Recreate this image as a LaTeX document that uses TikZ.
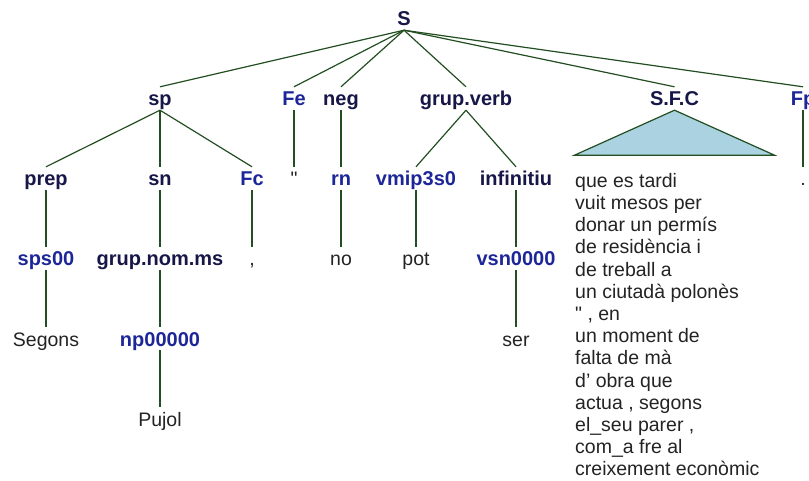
\documentclass[tikz,border=0pt]{standalone}
\usepackage{fontspec}
\setmainfont{Liberation Sans}[Ligatures=TeXOff]
\usepackage{tikz}

\definecolor{catnavy}{RGB}{22,22,72}
\definecolor{tagblue}{RGB}{28,38,152}
\definecolor{branchgreen}{RGB}{34,78,34}
\definecolor{wordgray}{RGB}{35,35,35}
\definecolor{roofblue}{RGB}{170,210,224}

\begin{document}
\begin{tikzpicture}[x=1pt, y=-1pt,
    tree label/.style={inner xsep=1pt, inner ysep=4pt, text height=15pt, text depth=0pt},
    cat node/.style={tree label, text=catnavy, font=\fontsize{20}{22}\selectfont\bfseries},
    tag node/.style={tree label, text=tagblue, font=\fontsize{20}{22}\selectfont\bfseries},
    word node/.style={tree label, text=wordgray, font=\fontsize{19.5}{22}\selectfont},
    branch/.style={draw=branchgreen, line width=1.2pt}]
    \useasboundingbox (0,0) rectangle (809,481);

    \node[cat node] (S) at (404,18.5) {S};

    \node[cat node] (sp) at (160,98.5) {sp};
    \node[tag node] (Fe) at (294,98.5) {Fe};
    \node[cat node] (neg) at (341,98.5) {neg};
    \node[cat node] (grupverb) at (466,98.5) {grup.verb};
    \node[cat node] (sfc) at (674.5,98.5) {S.F.C};
    \node[tag node] (Fp) at (803,98.5) {Fp};

    \node[cat node] (prep) at (46,178.5) {prep};
    \node[cat node] (sn) at (160,178.5) {sn};
    \node[tag node] (Fc) at (252,178.5) {Fc};
    \node[word node] (quote) at (294,178.5) {"};
    \node[tag node] (rn) at (341,178.5) {rn};
    \node[tag node] (vmip) at (416,178.5) {vmip3s0};
    \node[cat node] (infinitiu) at (516,178.5) {infinitiu};
    \node[word node] (stop) at (803,178.5) {.};

    \node[tag node] (sps) at (46,258.5) {sps00};
    \node[cat node] (grupnom) at (160,258.5) {grup.nom.ms};
    \node[word node] (comma) at (252,258.5) {,};
    \node[word node] (no) at (341,258.5) {no};
    \node[word node] (pot) at (416,258.5) {pot};
    \node[tag node] (vsn) at (516,258.5) {vsn0000};

    \node[word node] (segons) at (46,338.5) {Segons};
    \node[tag node] (np) at (160,338.5) {np00000};
    \node[word node] (ser) at (516,338.5) {ser};

    \node[word node] (pujol) at (160,418.5) {Pujol};

    % roof over the unanalysed clause
    \filldraw[branch, fill=roofblue] (sfc.south) -- ++(-100,45) -- ++(200,0) -- cycle;
    \node[anchor=north west, inner sep=0pt, align=left, text=wordgray,
        font=\fontsize{19.5}{22.2}\selectfont] (sfcwords) at (575,173)
        {que es tardi\\ vuit mesos per\\ donar un permís\\ de residència i\\
         de treball a\\ un ciutadà polonès\\ " , en\\ un moment de\\
         falta de mà\\ d’ obra que\\ actua , segons\\ el\_seu parer ,\\
         com\_a fre al\\ creixement econòmic};

    \draw[branch] (S.south) -- (sp.north);
    \draw[branch] (S.south) -- (Fe.north);
    \draw[branch] (S.south) -- (neg.north);
    \draw[branch] (S.south) -- (grupverb.north);
    \draw[branch] (S.south) -- (sfc.north);
    \draw[branch] (S.south) -- (Fp.north);
    \draw[branch] (sp.south) -- (prep.north);
    \draw[branch] (sp.south) -- (sn.north);
    \draw[branch] (sp.south) -- (Fc.north);
    \draw[branch] (Fe.south) -- (quote.north);
    \draw[branch] (neg.south) -- (rn.north);
    \draw[branch] (grupverb.south) -- (vmip.north);
    \draw[branch] (grupverb.south) -- (infinitiu.north);
    \draw[branch] (Fp.south) -- (stop.north);
    \draw[branch] (prep.south) -- (sps.north);
    \draw[branch] (sn.south) -- (grupnom.north);
    \draw[branch] (Fc.south) -- (comma.north);
    \draw[branch] (rn.south) -- (no.north);
    \draw[branch] (vmip.south) -- (pot.north);
    \draw[branch] (infinitiu.south) -- (vsn.north);
    \draw[branch] (sps.south) -- (segons.north);
    \draw[branch] (grupnom.south) -- (np.north);
    \draw[branch] (vsn.south) -- (ser.north);
    \draw[branch] (np.south) -- (pujol.north);
\end{tikzpicture}
\end{document}
